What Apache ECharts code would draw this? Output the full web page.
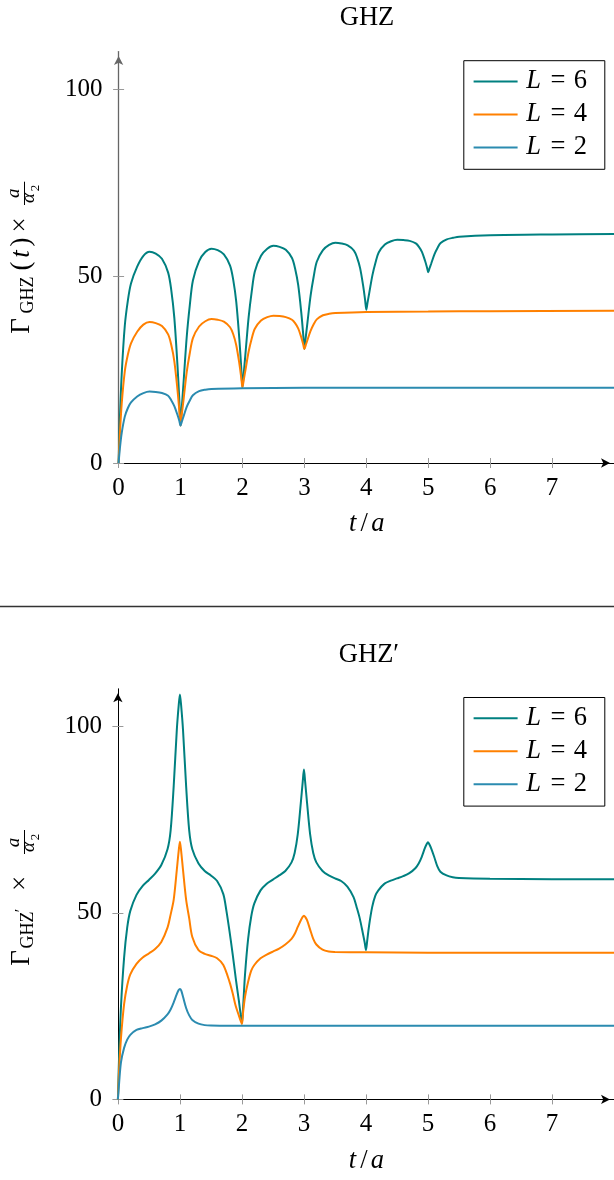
<!DOCTYPE html>
<html>
<head>
<meta charset="utf-8">
<script src="https://cdn.jsdelivr.net/npm/echarts@6/dist/echarts.min.js"></script>
<style>
html,body{margin:0;padding:0;background:#fff;}
#chart{width:614px;height:1180px;}
</style>
</head>
<body>
<div id="chart"></div>
<script>
// ---------------- data ----------------
const xTicks = [0, 1, 2, 3, 4, 5, 6, 7];
const yTicks = [0, 50, 100];
const seriesNames = ['L = 6', 'L = 4', 'L = 2'];
const seriesColors = ['#008080', '#ff8000', '#2b8bb0'];

// GHZ panel: [t/a, value]
const ghzL6 = [[0,0],[0.02,11.3],[0.05,23.7],[0.1,36.7],[0.15,43.5],[0.2,48],[0.3,52.5],[0.4,55.4],[0.5,56.5],[0.6,56],[0.7,54.6],[0.8,50.9],[0.85,46.3],[0.9,38.8],[0.95,26.3],[0.98,17],
[1,10],[1.02,14.7],[1.05,21.8],[1.1,33.7],[1.15,42.2],[1.2,48.8],[1.3,54],[1.4,56.4],[1.5,57.3],[1.6,56.9],[1.7,55.8],[1.8,52.8],[1.85,49.1],[1.9,43.1],[1.95,33.1],[1.98,25.6],
[2,20.2],[2.02,23.8],[2.05,29.5],[2.1,39],[2.15,45.9],[2.2,51.2],[2.3,55.4],[2.4,57.3],[2.5,58.1],[2.6,57.8],[2.7,57],[2.8,54.8],[2.85,52],[2.9,47.6],[2.95,40.2],[2.98,34.6],
[3,30.5],[3.02,33.3],[3.05,37.6],[3.1,44.7],[3.15,49.8],[3.2,53.8],[3.3,56.9],[3.4,58.3],[3.5,58.9],[3.6,58.7],[3.7,58.2],[3.8,56.8],[3.85,55],[3.9,52.1],[3.95,47.3],[3.98,43.7],
[4,41],[4.02,42.9],[4.05,45.7],[4.1,50.3],[4.15,53.7],[4.2,56.3],[4.3,58.4],[4.4,59.3],[4.5,59.7],[4.6,59.6],[4.7,59.4],[4.8,58.7],[4.85,57.8],[4.9,56.4],[4.95,54],[4.98,52.3],
[5,51],[5.02,52],[5.05,53.4],[5.1,55.8],[5.15,57.5],[5.2,58.8],[5.3,59.8],[5.4,60.2],[5.5,60.5],[6,60.9],[7,61.1],[8,61.2]];

const ghzL4 = [[0,0],[0.02,7.5],[0.05,15.8],[0.1,24.5],[0.15,29],[0.2,32],[0.3,35.1],[0.4,37],[0.5,37.7],[0.6,37.4],[0.7,36.6],[0.8,34.4],[0.85,31.6],[0.9,27.2],[0.95,19.7],[0.98,14.2],
[1,10],[1.02,12.9],[1.05,17.1],[1.1,24.3],[1.15,29.4],[1.2,33.4],[1.3,36.5],[1.4,37.9],[1.5,38.5],[1.6,38.3],[1.7,37.8],[1.8,36.3],[1.85,34.5],[1.9,31.5],[1.95,26.6],[1.98,22.9],
[2,20.2],[2.02,22.1],[2.05,25],[2.1,29.8],[2.15,33.3],[2.2,35.9],[2.3,38.1],[2.4,39],[2.5,39.4],[2.6,39.3],[2.7,39],[2.8,38.3],[2.85,37.4],[2.9,36],[2.95,33.6],[2.98,31.8],
[3,30.5],[3.02,31.4],[3.05,32.9],[3.1,35.3],[3.15,37.1],[3.2,38.4],[3.3,39.5],[3.4,39.9],[3.5,40.1],[4,40.4],[5,40.5],[6,40.6],[8,40.7]];

const ghzL2 = [[0,0],[0.02,3.8],[0.05,8],[0.1,12.4],[0.15,14.7],[0.2,16.2],[0.3,17.8],[0.4,18.7],[0.5,19.1],[0.6,19],[0.7,18.7],[0.8,18],[0.85,16.8],[0.9,15.2],[0.95,12.9],[0.98,11.3],
[1,10],[1.02,11],[1.05,12.5],[1.1,15],[1.15,16.7],[1.2,18.1],[1.3,19.2],[1.4,19.6],[1.5,19.8],[2,20],[3,20.1],[8,20.1]];

// GHZ' panel: [t/a, value]
const ghzpL6 = [[0,0],[0.02,12],[0.05,25],[0.1,38],[0.15,46],[0.2,50.5],[0.3,54.8],[0.4,57.2],[0.5,58.8],[0.6,60.5],[0.7,62.8],[0.8,67],[0.85,72],[0.9,84],[0.95,99],[0.98,105.5],
[1,108.5],[1.02,105.5],[1.05,99],[1.1,84],[1.15,72],[1.2,67],[1.3,63.2],[1.4,61.2],[1.5,60],[1.6,58.5],[1.7,55],[1.75,50.5],[1.8,45],[1.85,39],[1.9,32.5],[1.95,26.5],[1.98,22.7],
[2,20.4],[2.02,25],[2.05,33.5],[2.1,43],[2.15,49],[2.2,52.5],[2.3,56],[2.4,57.8],[2.5,58.9],[2.6,60],[2.7,61.2],[2.8,63.5],[2.85,66],[2.9,71],[2.95,79.5],[2.98,85],
[3,88.4],[3.02,85],[3.05,79.5],[3.1,71],[3.15,66],[3.2,63.5],[3.3,61.2],[3.4,60],[3.5,59.2],[3.6,58.5],[3.7,57],[3.8,54.2],[3.85,51.5],[3.9,48.5],[3.95,44.5],[3.98,42],
[4,40],[4.02,42.5],[4.05,46.5],[4.1,51.5],[4.15,54.5],[4.2,56],[4.3,57.8],[4.4,58.6],[4.5,59.2],[4.6,59.8],[4.7,60.6],[4.8,62],[4.85,63.2],[4.9,65],[4.95,67.3],[4.98,68.4],
[5,68.9],[5.02,68.4],[5.05,67.3],[5.1,65],[5.15,62.5],[5.2,61],[5.3,60],[5.4,59.5],[5.5,59.3],[6,59.1],[7,59],[8,59]];

const ghzpL4 = [[0,0],[0.02,8],[0.05,16.5],[0.1,25.5],[0.15,30.5],[0.2,33.5],[0.3,36.3],[0.4,38],[0.5,39.1],[0.6,40.3],[0.7,42.2],[0.8,46],[0.85,49.5],[0.9,53.5],[0.95,61.5],[0.98,66.5],
[1,69],[1.02,66.5],[1.05,61.5],[1.1,53.5],[1.15,48.5],[1.2,43.5],[1.3,40],[1.4,39],[1.5,38.5],[1.6,37.8],[1.7,36],[1.8,31.5],[1.85,28.5],[1.9,25],[1.95,22.5],[1.98,21],
[2,20.2],[2.02,23.5],[2.05,27.5],[2.1,31.5],[2.15,34.5],[2.2,36],[2.3,37.8],[2.4,38.8],[2.5,39.6],[2.6,40.4],[2.7,41.5],[2.8,43],[2.85,44.3],[2.9,46.2],[2.95,48],[2.98,48.9],
[3,49.2],[3.02,48.9],[3.05,48],[3.1,45.5],[3.15,43],[3.2,41.5],[3.3,40.1],[3.4,39.6],[3.5,39.5],[4,39.4],[5,39.3],[8,39.3]];

const ghzpL2 = [[0,0],[0.02,4.5],[0.05,10],[0.1,13.8],[0.15,16],[0.2,17.3],[0.3,18.6],[0.4,19.1],[0.5,19.5],[0.6,20.1],[0.7,21.1],[0.8,22.8],[0.85,24.1],[0.9,26],[0.95,28.2],[0.98,29.3],
[1,29.6],[1.02,29.2],[1.05,27.5],[1.1,24.5],[1.15,22.5],[1.2,21.3],[1.3,20.3],[1.4,19.9],[1.5,19.8],[2,19.7],[8,19.7]];

// ---------------- chart ----------------
const FONT = "'Liberation Serif','DejaVu Serif',serif";
const chart = echarts.init(document.getElementById('chart'), null, {renderer: 'canvas'});

const panels = [
  {grid: {left: 118.6, top: 51.6, width: 496.5, height: 411.4}, yLineColor: '#666', yLineWidth: 1.3},
  {grid: {left: 117.9, top: 688.8, width: 496.5, height: 410.6}, yLineColor: '#000', yLineWidth: 1}
];

const tickStyle = {color: '#999', width: 1};
const xAxes = [], yAxes = [];
panels.forEach(function (p, i) {
  xAxes.push({
    type: 'value', gridIndex: i, min: 0, max: 8, position: 'bottom',
    axisLine: {show: true, onZero: false, lineStyle: {color: '#000', width: 1.1},
      symbol: ['none', 'arrow'], symbolSize: [7, 9], symbolOffset: [0, -4]},
    axisTick: {show: true, length: 5, lineStyle: tickStyle, customValues: xTicks},
    axisLabel: {show: true, customValues: xTicks, margin: 12.5, color: '#000', fontFamily: FONT, fontSize: 25},
    splitLine: {show: false},
    name: '{i|t}{s|/}{a|a}', nameLocation: 'middle', nameGap: 48,
    nameTextStyle: {rich: {
      i: {fontFamily: FONT, fontSize: 26.5, fontStyle: 'italic', color: '#000', width: 10, align: 'center', lineHeight: 26.5},
      s: {fontFamily: FONT, fontSize: 26.5, color: '#000', width: 13, align: 'center', lineHeight: 26.5},
      a: {fontFamily: FONT, fontSize: 26.5, fontStyle: 'italic', color: '#000', width: 14, align: 'center', lineHeight: 26.5}
    }}
  });
  xAxes.push({
    type: 'value', gridIndex: i, min: 0, max: 8, position: 'bottom',
    axisLine: {show: false}, axisLabel: {show: false}, splitLine: {show: false},
    axisTick: {show: true, inside: true, length: 5, lineStyle: tickStyle, customValues: xTicks}
  });
  yAxes.push({
    type: 'value', gridIndex: i, min: 0, max: 110, position: 'left',
    axisLine: {show: true, onZero: false, lineStyle: {color: p.yLineColor, width: p.yLineWidth},
      symbol: ['none', 'arrow'], symbolSize: [7, 9], symbolOffset: [0, -4.5]},
    axisTick: {show: true, length: 5.5, lineStyle: tickStyle, customValues: yTicks},
    axisLabel: {show: true, customValues: yTicks, margin: 16, color: '#000', fontFamily: FONT, fontSize: 25},
    splitLine: {show: false}
  });
  yAxes.push({
    type: 'value', gridIndex: i, min: 0, max: 110, position: 'left',
    axisLine: {show: false}, axisLabel: {show: false}, splitLine: {show: false},
    axisTick: {show: true, inside: true, length: 5.5, lineStyle: tickStyle, customValues: yTicks}
  });
});

const panelData = [[ghzL6, ghzL4, ghzL2], [ghzpL6, ghzpL4, ghzpL2]];
const series = [];
panelData.forEach(function (arrs, i) {
  arrs.forEach(function (d, k) {
    series.push({
      name: seriesNames[k], type: 'line', xAxisIndex: 2 * i, yAxisIndex: 2 * i,
      data: d, symbol: 'none', showSymbol: false, smooth: 0.3,
      lineStyle: {color: seriesColors[k], width: 2},
      itemStyle: {color: seriesColors[k]}, emphasis: {disabled: true}
    });
  });
});

const legendRich = {
  i: {fontFamily: FONT, fontSize: 26.5, fontStyle: 'italic', color: '#000', width: 21.8, align: 'center', lineHeight: 25},
  e: {fontFamily: FONT, fontSize: 26.5, color: '#000', width: 27, align: 'center', lineHeight: 25},
  n: {fontFamily: FONT, fontSize: 26.5, color: '#000', width: 18, align: 'center', lineHeight: 25}
};
function legendFmt(name) {
  const parts = name.split('=');
  return '{i|' + parts[0].trim() + '}{e|=}{n|' + parts[1].trim() + '}';
}
function makeLegend(top) {
  return {
    orient: 'vertical', left: 463.8, top: top,
    data: seriesNames.map(function (n) { return {name: n, icon: 'rect'}; }),
    itemWidth: 44, itemHeight: 2, itemGap: 6,
    padding: [7.3, 15.4, 8.3, 9.8], borderColor: '#000', borderWidth: 1, backgroundColor: '#fff',
    formatter: legendFmt,
    textStyle: {fontFamily: FONT, fontSize: 26.5, lineHeight: 25, rich: legendRich},
    selectedMode: false
  };
}

// rotated y-axis labels, built from text pieces (screen-y position, offset from left edge)
function labelPieces(pieces, bar) {
  const children = pieces.map(function (p) {
    return {type: 'text', x: -p.sy, y: p.ly, style: {
      text: p.t, fontFamily: FONT, fontSize: p.s, fontStyle: p.it ? 'italic' : 'normal',
      fill: '#000', align: 'center', verticalAlign: 'middle'}};
  });
  children.push({type: 'line', shape: {x1: -bar[1], y1: bar[2], x2: -bar[0], y2: bar[2]},
    style: {stroke: '#000', lineWidth: 1}});
  return {type: 'group', x: 0, y: 0, rotation: Math.PI / 2, children: children};
}
const topLabel = labelPieces([
  {t: 'Γ', sy: 326, ly: 21.7, s: 27},
  {t: 'GHZ', sy: 295, ly: 28.3, s: 18},
  {t: '(', sy: 266, ly: 21.7, s: 27},
  {t: 't', sy: 254, ly: 21.7, s: 27, it: true},
  {t: ')', sy: 242, ly: 21.7, s: 27},
  {t: '×', sy: 225, ly: 20.6, s: 27},
  {t: 'a', sy: 193.3, ly: 14.2, s: 19, it: true},
  {t: 'α', sy: 198, ly: 29.2, s: 19, it: true},
  {t: '2', sy: 188, ly: 36, s: 13}
], [181.7, 205, 24.5]);
const botLabel = labelPieces([
  {t: 'Γ', sy: 958, ly: 21.7, s: 27},
  {t: 'GHZ', sy: 930, ly: 28.3, s: 18},
  {t: '′', sy: 910.5, ly: 22, s: 16},
  {t: '×', sy: 883.5, ly: 20.6, s: 27},
  {t: 'a', sy: 842.5, ly: 14.2, s: 19, it: true},
  {t: 'α', sy: 847, ly: 29.2, s: 19, it: true},
  {t: '2', sy: 837, ly: 36, s: 13}
], [830, 854, 24.5]);

const option = {
  animation: false,
  backgroundColor: '#fff',
  title: [
    {text: 'GHZ', left: 367, top: 4.3, textAlign: 'center', padding: 0,
      textStyle: {fontFamily: FONT, fontSize: 26.5, fontWeight: 'normal', color: '#000'}},
    {text: 'GHZ′', left: 369, top: 641.5, textAlign: 'center', padding: 0,
      textStyle: {fontFamily: FONT, fontSize: 26.5, fontWeight: 'normal', color: '#000'}}
  ],
  grid: panels.map(function (p) { return p.grid; }),
  xAxis: xAxes,
  yAxis: yAxes,
  legend: [makeLegend(60.7), makeLegend(697.5)],
  series: series,
  graphic: [
    {type: 'line', shape: {x1: 0, y1: 606.5, x2: 614, y2: 606.5}, style: {stroke: '#333', lineWidth: 1.3}},
    topLabel, botLabel
  ]
};
chart.setOption(option);
</script>
</body>
</html>
